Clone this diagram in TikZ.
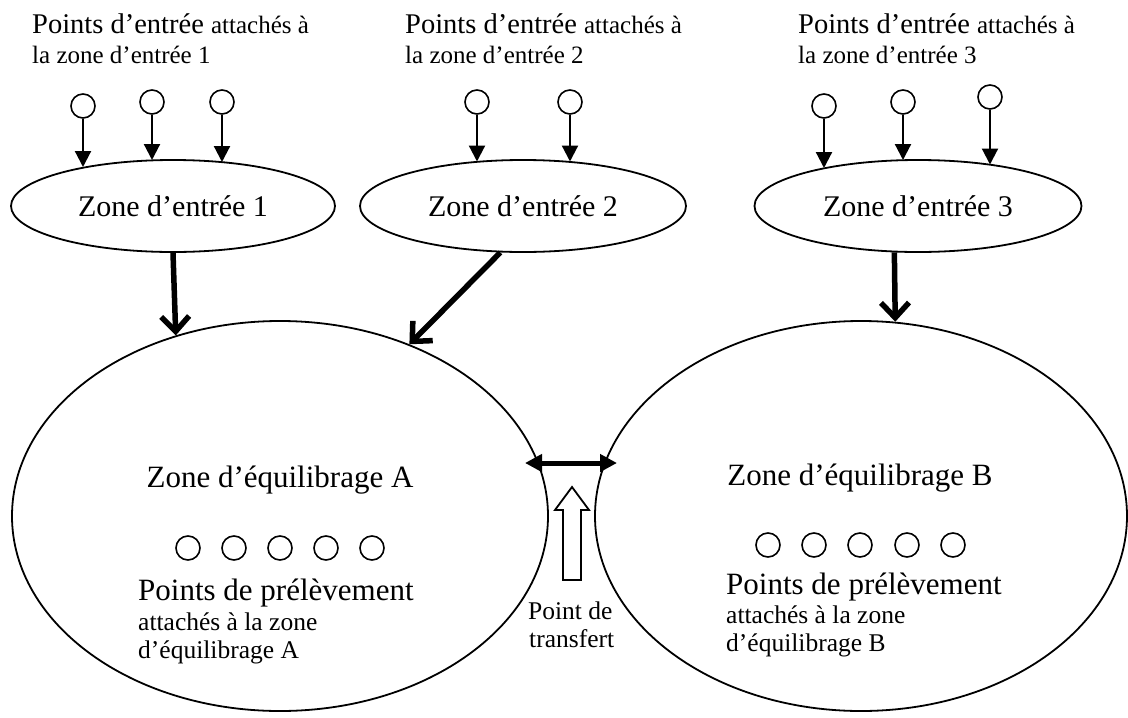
\documentclass[tikz,border=0pt]{standalone}
\usepackage{fontspec}
\setmainfont{Liberation Serif}
\usetikzlibrary{arrows.meta,shapes.geometric}
\tikzset{
  zone/.style={draw, ellipse, line width=1.8pt, inner sep=0pt},
  entry/.style={draw, circle, line width=1.6pt, minimum size=24pt, inner sep=0pt},
  feed/.style={line width=2.2pt, -{Triangle[length=16pt,width=16pt]}},
  flow/.style={line width=5.5pt, -{Straight Barb[length=15pt,width=28pt]}},
  swap/.style={line width=5pt, {Triangle[length=17pt,width=17pt]}-{Triangle[length=17pt,width=17pt]}},
  txt/.style={inner sep=0pt, anchor=base west},
  bigf/.style={font=\fontsize{31}{36}\selectfont},
  smallf/.style={font=\fontsize{25.5}{30}\selectfont},
}
\newcommand{\headbig}{\fontsize{28.5}{30}\selectfont}
\newcommand{\headsmall}{\fontsize{25}{30}\selectfont}
\begin{document}
\begin{tikzpicture}[x=1pt, y=-1pt]
\useasboundingbox (0,0) rectangle (1128,718);

% headings above the entry zones
\node[txt] (h1a) at (32,33) {\headbig Points d’entrée \headsmall attachés à};
\node[txt] (h1b) at (32,63) {\headsmall la zone d’entrée 1};
\node[txt] (h2a) at (405,33) {\headbig Points d’entrée \headsmall attachés à};
\node[txt] (h2b) at (405,63) {\headsmall la zone d’entrée 2};
\node[txt] (h3a) at (798,33) {\headbig Points d’entrée \headsmall attachés à};
\node[txt] (h3b) at (798,63) {\headsmall la zone d’entrée 3};

% entry zones
\node[zone, minimum width=324pt, minimum height=92pt, font=\fontsize{30}{34}\selectfont] (e1) at (173,206) {Zone d’entrée 1};
\node[zone, minimum width=326pt, minimum height=92pt, font=\fontsize{30}{34}\selectfont] (e2) at (523,206) {Zone d’entrée 2};
\node[zone, minimum width=327pt, minimum height=92pt, font=\fontsize{30}{34}\selectfont] (e3) at (918,206) {Zone d’entrée 3};

% entry points
\node[entry] (p11) at (83,106) {};
\node[entry] (p12) at (152,102) {};
\node[entry] (p13) at (222,102) {};
\node[entry] (p21) at (477,102) {};
\node[entry] (p22) at (570,102) {};
\node[entry] (p31) at (824,106) {};
\node[entry] (p32) at (903,102) {};
\node[entry] (p33) at (990,97) {};

\coordinate (t11) at (83,167);
\coordinate (t12) at (152,160);
\coordinate (t13) at (222,162);
\coordinate (t21) at (477,161.5);
\coordinate (t22) at (570,161.5);
\coordinate (t31) at (824,168);
\coordinate (t32) at (903,160);
\coordinate (t33) at (990,164.5);

\foreach \p/\t in {p11/t11,p12/t12,p13/t13,p21/t21,p22/t22,p31/t31,p32/t32,p33/t33}
  \draw[feed] (\p) -- (\t);

% balancing zones
\node[zone, minimum width=536pt, minimum height=390pt] (eA) at (280,516) {};
\node[zone, minimum width=532pt, minimum height=390pt] (eB) at (861,516) {};

% flows from entry zones into balancing zones
\draw[flow] (e1.south) -- (eA.120.9);
\draw[flow] (e2.-116.6) -- (eA.53);
\draw[flow] (e3.-117) -- (eB.80);

% transfer between the two balancing zones
\coordinate (dL) at (525,463);
\coordinate (dR) at (617,463);
\draw[swap] (dL) -- (dR);

% transfer point marker
\draw[line width=1.8pt, line join=miter] (563,580) -- (563,510) -- (555,510) -- (572,487)
  -- (589,510) -- (581,510) -- (581,580) -- cycle;
\node[txt, smallf] (tp1) at (528,619) {Point de};
\node[txt, smallf] (tp2) at (529,647) {transfert};

% zone A contents
\node[inner sep=0pt, anchor=base, bigf] (lA) at (280,487) {Zone d’équilibrage A};
\foreach \x [count=\i] in {188,234,280,326,372}
  \node[entry] (sA\i) at (\x,548) {};
\node[txt, bigf] (pA1) at (138,600) {Points de prélèvement};
\node[txt, smallf] (pA2) at (138,630) {attachés à la zone};
\node[txt, smallf] (pA3) at (138,658) {d’équilibrage A};

% zone B contents
\node[inner sep=0pt, anchor=base, bigf] (lB) at (860,485) {Zone d’équilibrage B};
\foreach \x [count=\i] in {768,814,860,907,953}
  \node[entry] (sB\i) at (\x,545) {};
\node[txt, bigf] (pB1) at (726,594) {Points de prélèvement};
\node[txt, smallf] (pB2) at (726,623) {attachés à la zone};
\node[txt, smallf] (pB3) at (726,651) {d’équilibrage B};
\end{tikzpicture}
\end{document}
